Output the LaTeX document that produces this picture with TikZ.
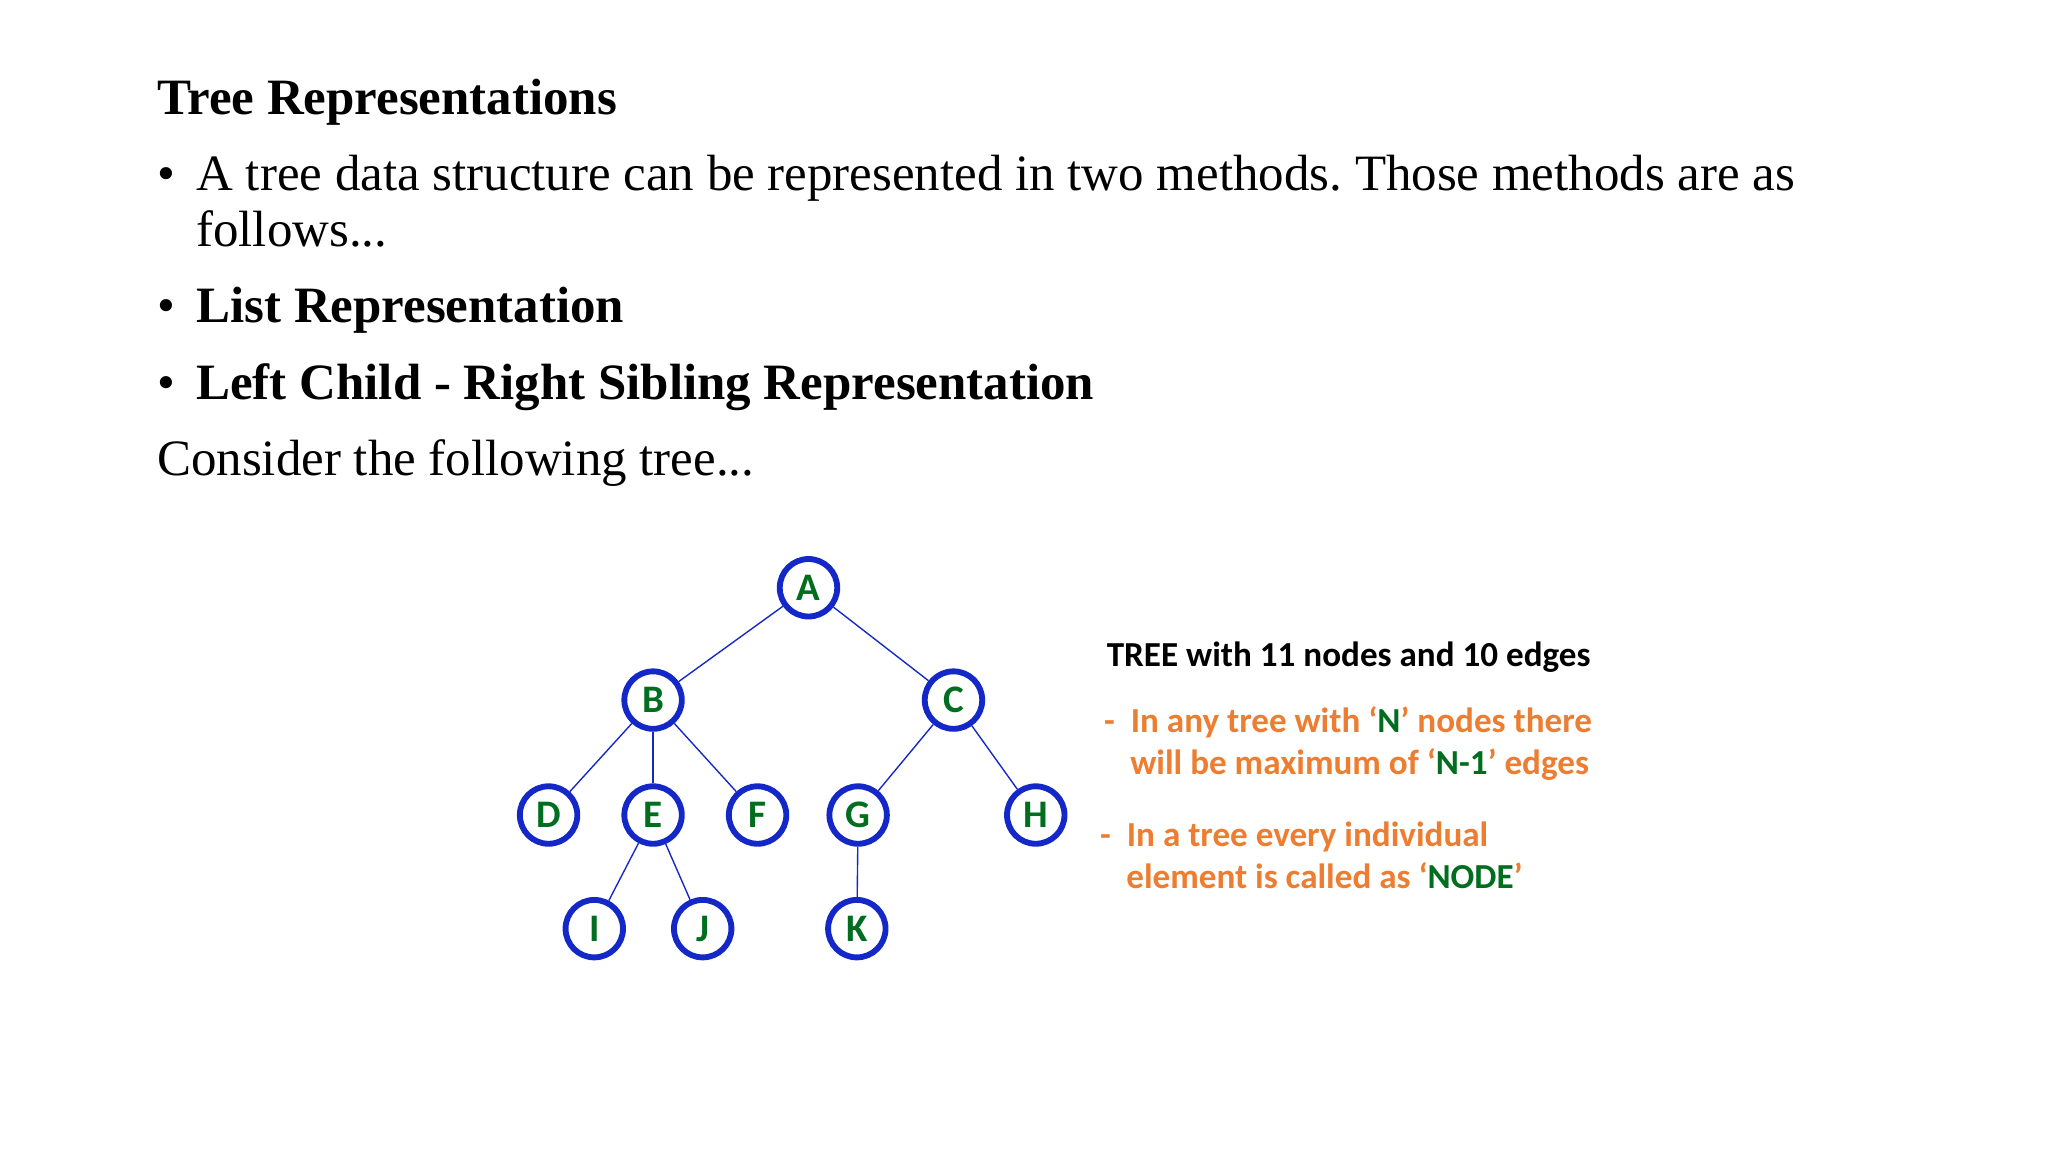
\documentclass[tikz,border=0pt]{standalone}
\usepackage{fontspec}
\setmainfont{Liberation Serif}
\newfontfamily\carlitofont{Carlito}
\definecolor{tblue}{RGB}{20,40,200}
\definecolor{tgreen}{RGB}{0,110,30}
\definecolor{torange}{RGB}{237,125,49}
\frenchspacing
\begin{document}
\begin{tikzpicture}[x=0.02cm,y=-0.02cm,
  tn/.style={circle,draw=tblue,line width=4.5pt*0.567,minimum size=44*0.02cm,inner sep=0pt,font=\carlitofont\bfseries\fontsize{17}{17}\selectfont,text=tgreen,fill=white},
  ed/.style={tblue,line width=0.6pt},
  txt/.style={anchor=base west,inner sep=0pt,font=\fontsize{22.2}{26}\selectfont},
  rt/.style={anchor=base west,inner sep=0pt,font=\carlitofont\bfseries\fontsize{15.3}{18}\selectfont}]
\useasboundingbox[fill=white] (0,0) rectangle (1568,882);
\node[txt,font=\bfseries\fontsize{22.2}{26}\selectfont] (t) at (120,88) {Tree Representations};
\node[txt] (b1) at (120,146) {\textbullet};
\node[txt] (l1) at (150,146) {A tree data structure can be represented in two methods. Those methods are as};
\node[txt] (l2) at (150,189) {follows...};
\node[txt] (b2) at (120,247) {\textbullet};
\node[txt,font=\bfseries\fontsize{22.2}{26}\selectfont] (l3) at (150,247) {List Representation};
\node[txt] (b3) at (120,306) {\textbullet};
\node[txt,font=\bfseries\fontsize{22.2}{26}\selectfont] (l4) at (150,306) {Left Child - Right Sibling Representation};
\node[txt] (l5) at (120,364) {Consider the following tree...};
\node[tn] (A) at (619,450) {A};
\node[tn] (B) at (500,536) {B};
\node[tn] (C) at (730,536) {C};
\node[tn] (D) at (420,624) {D};
\node[tn] (E) at (500,624) {E};
\node[tn] (F) at (580,624) {F};
\node[tn] (G) at (657,624) {G};
\node[tn] (H) at (793,624) {H};
\node[tn] (I) at (455,711) {I};
\node[tn] (J) at (538,711) {J};
\node[tn] (K) at (656,711) {K};
\draw[ed] (A)--(B); \draw[ed] (A)--(C);
\draw[ed] (B)--(D); \draw[ed] (B)--(E); \draw[ed] (B)--(F);
\draw[ed] (C)--(G); \draw[ed] (C)--(H);
\draw[ed] (E)--(I); \draw[ed] (E)--(J); \draw[ed] (G)--(K);
\node[rt] (r1) at (847,510) {TREE with 11 nodes and 10 edges};
\node[rt,text=torange] (r2) at (845,561) {-\ \ In any tree with ‘\textcolor{tgreen}{N}’ nodes there};
\node[rt,text=torange] (r3) at (865,593) {will be maximum of ‘\textcolor{tgreen}{N-1}’ edges};
\node[rt,text=torange] (r4) at (842,648) {-\ \ In a tree every individual};
\node[rt,text=torange] (r5) at (862,680) {element is called as ‘\textcolor{tgreen}{NODE}’};
\end{tikzpicture}
\end{document}
